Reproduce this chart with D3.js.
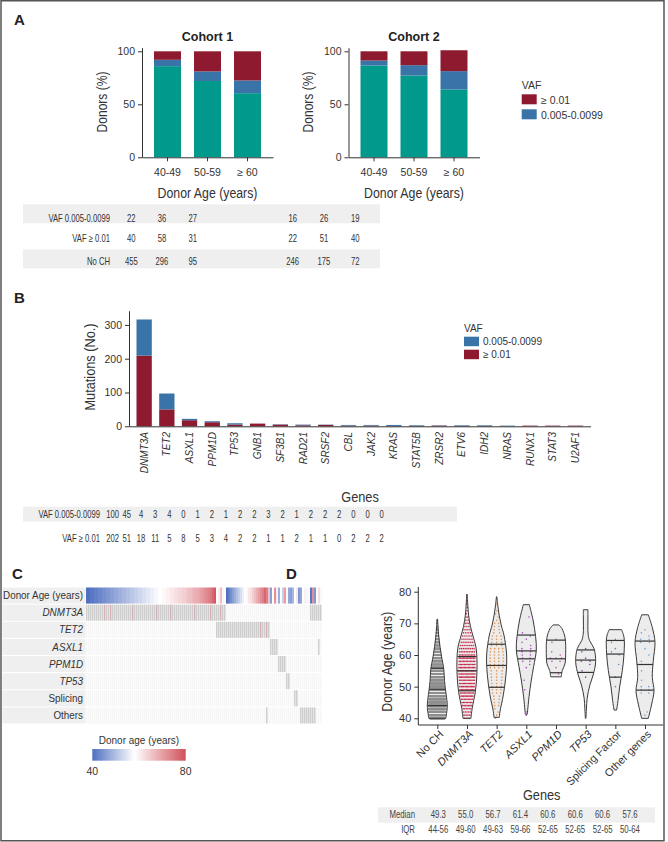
<!DOCTYPE html>
<html><head><meta charset="utf-8">
<script src="https://cdn.jsdelivr.net/npm/d3@7/dist/d3.min.js"></script>
<style>body{margin:0;background:#fff}svg{display:block}</style>
</head><body>
<svg id="fig" width="668" height="842" xmlns="http://www.w3.org/2000/svg"></svg>
<script>
// ================= DATA =================
// Panel A
const ageGroups = ["40-49", "50-59", "≥ 60"];
const c1PctNoCH = [86, 72, 60.5];
const c1PctLow  = [6, 9, 12];
const c1PctHigh = [8, 19, 27.5];
const c2PctNoCH = [86.6, 77.2, 64.1];
const c2PctLow  = [4.7, 9.7, 17.2];
const c2PctHigh = [8.7, 13.1, 19.7];
const yTicksA = [0, 50, 100];
const tableARows = ["VAF 0.005-0.0099", "VAF ≥ 0.01", "No CH"];
const c1Low = [22, 36, 27], c1High = [40, 58, 31], c1NoCH = [455, 296, 95];
const c2Low = [16, 26, 19], c2High = [22, 51, 40], c2NoCH = [246, 175, 72];

// Panel B
const genesB = ["DNMT3A","TET2","ASXL1","PPM1D","TP53","GNB1","SF3B1","RAD21","SRSF2","CBL","JAK2","KRAS","STAT5B","ZRSR2","ETV6","IDH2","NRAS","RUNX1","STAT3","U2AF1"];
const barHigh = [209, 50, 18, 12, 5, 8, 5, 3, 4, 2, 2, 1, 1, 2, 1, 1, 0, 2, 2, 2];
const barLow  = [107, 47, 4, 3, 4, 0, 1, 2, 1, 2, 2, 3, 2, 1, 2, 2, 2, 0, 0, 0];
const yTicksB = [0, 100, 200, 300];
const tabLowB  = [100, 45, 4, 3, 4, 0, 1, 2, 1, 2, 2, 3, 2, 1, 2, 2, 2, 0, 0, 0];
const tabHighB = [202, 51, 18, 11, 5, 8, 5, 3, 4, 2, 2, 1, 1, 2, 1, 1, 0, 2, 2, 2];

// Panel C
const heatRows = ["Donor Age (years)", "DNMT3A", "TET2", "ASXL1", "PPM1D", "TP53", "Splicing", "Others"];
const heatItalic = [false, true, true, true, true, true, false, false];
const colAges = [
  40,40,41,41,42,42,43,43,44,44,45,45,46,46,47,47,48,48,49,49,50,50,51,51,52,52,53,53,54,54,55,55,56,56,57,57,58,58,59,59,60,60,61,61,62,62,63,63,64,64,65,66,66,67,68,68,69,70,71,72,73,74,75,77,79,
  58,60,66,59,58,
  40,42,44,46,48,50,52,54,56,58,59,61,62,64,66,68,70,72,74,77,
  74,66,46,58,72,60,48,58,52,70,59,47,46,49,58,61,45,47,58,60,57,59,41,72,45,58,62,59
];
const mutRanges = [
  [],
  [[0, 69], [112, 117]],
  [[65, 91]],
  [[92, 95], [116, 116]],
  [[96, 99]],
  [[100, 101]],
  [[104, 105]],
  [[90, 90], [107, 114]]
];
const pinkDNMT3A = [9, 12, 23, 35, 42, 54, 62, 67];
const pinkTET2 = [87, 90];
const ageLegendTicks = [40, 80];

// Panel D
const dGroups = ["No CH", "DNMT3A", "TET2", "ASXL1", "PPM1D", "TP53", "Splicing Factor", "Other genes"];
const dItalic = [false, true, true, true, true, true, false, false];
const dColors = ["#8f8f8f", "#c4173d", "#e3883c", "#a13db8", "#b04ca8", "#7c3a9f", "#4f86c6", "#5e9cd4"];
const violinNoCH   = [[40,0.85],[41,0.9],[43.7,1.0],[46,0.95],[49,0.82],[52,0.72],[55.8,0.64],[59,0.45],[62.6,0.27],[66,0.14],[69,0.07],[71.3,0.02]];
const violinDNMT3A = [[40,0.4],[43.1,0.52],[48.4,0.84],[54.7,1.0],[62.1,0.92],[66,0.6],[69,0.35],[72.6,0.16],[76,0.08],[79.1,0.02]];
const violinTET2   = [[40.3,0.27],[42.1,0.33],[47.4,0.67],[53.7,0.93],[60,1.0],[66.3,0.73],[69.5,0.45],[72.6,0.25],[75.5,0.12],[78.4,0.02]];
const violinASXL1  = [[41.3,0.1],[46.8,0.27],[52.1,0.5],[56.3,0.73],[61.6,1.0],[65.8,0.93],[71.1,0.67],[75.9,0.3]];
const violinPPM1D  = [[53.1,0.53],[55.1,0.63],[57.2,0.9],[60.4,0.97],[65.6,0.9],[68.3,0.6],[69.5,0.3]];
const violinTP53   = [[40,0.03],[43,0.08],[46.3,0.15],[50.5,0.42],[53.7,0.75],[57.9,1.0],[62.1,0.83],[64.5,0.4],[66.5,0.25],[72,0.23],[74.3,0.23]];
const violinSplice = [[42.6,0.13],[45.6,0.27],[49.9,0.43],[55.1,0.7],[60.4,0.87],[65.6,0.87],[68,0.62]];
const violinOther  = [[40,0.33],[44.5,0.67],[48.7,0.9],[52.9,0.73],[58.2,0.83],[64,1.0],[68.7,0.73],[72.7,0.33]];
const quartiles = [[44,49.2,55.8],[48.7,55,59.5],[49.8,56.7,63.4],[58.8,61.3,66.3],[54.4,58.8,64.7],[54.5,58.4,61.6],[53,60.3,64.6],[48.9,57,64.4]];
// point counts per year of age, starting at 40
const countsNoCH   = [70,75,78,78,76,72,68,64,60,56,52,50,48,45,42,38,34,30,26,22,18,15,12,10,8,6,5,4,3,2,1,1];
const countsDNMT3A = [3,4,5,6,7,8,9,10,11,12,12,13,13,14,14,14,13,13,12,12,11,10,9,8,7,6,5,4,4,3,3,2,2,1,1,1,1,1,0,1];
const countsTET2   = [1,1,1,1,2,2,2,2,3,3,3,3,3,3,3,3,4,4,4,4,4,4,4,3,3,3,3,2,2,2,2,1,1,1,1,0,1,0,1];
const countsASXL1  = [0,1,1,0,0,0,0,0,0,1,0,0,1,0,0,0,1,1,2,2,2,2,2,1,1,1,1,1,0,0,0,0,1,0,0,0];
const countsPPM1D  = [0,0,0,0,0,0,0,0,0,0,0,0,0,0,1,0,1,0,2,3,1,1,0,0,1,1,0,0,0,0];
const countsTP53   = [0,0,0,0,0,0,0,0,0,0,0,0,0,1,0,1,0,1,2,1,0,1,1];
const countsSplice = [0,0,0,0,0,0,0,0,0,0,1,0,0,1,0,0,0,1,0,0,1,1,1,0,1,1];
const countsOther  = [0,1,1,0,0,0,0,0,2,2,2,0,1,0,0,1,0,2,1,0,1,0,1,0,2,2,1,1,1];
const yTicksD = [40, 50, 60, 70, 80];
const medianLabels = ["49.3", "55.0", "56.7", "61.4", "60.6", "60.6", "60.6", "57.6"];
const iqrLabels = ["44-56", "49-60", "49-63", "59-66", "52-65", "52-65", "52-65", "50-64"];

// ================= DRAWING =================
const SANS = "'Liberation Sans', Arial, Helvetica, sans-serif";
const colTeal = "#00998b", colBlue = "#3a73a7", colRed = "#8e1a30";
const INK = "#333";
const svg = d3.select("#fig");

function txt(x, y, s, o = {}) {
  let tf = `translate(${x},${y})`;
  if (o.rot !== undefined) tf += ` rotate(${o.rot})`;
  if (o.sx) tf += ` scale(${o.sx},1)`;
  const t = svg.append("text").attr("x", 0).attr("y", 0).attr("transform", tf).text(s)
    .attr("font-family", SANS).attr("font-size", o.size || 10)
    .attr("fill", o.fill || INK).attr("text-anchor", o.anchor || "start")
    .attr("dominant-baseline", o.base || "central");
  if (o.weight) t.attr("font-weight", o.weight);
  if (o.italic) t.attr("font-style", "italic");
  return t;
}
function styleAxis(g, size) {
  g.attr("font-family", SANS).attr("font-size", size).attr("color", INK);
  g.selectAll("text").attr("fill", INK);
}

// border
svg.append("rect").attr("x", 1).attr("y", 0.75).attr("width", 663).attr("height", 840)
  .attr("fill", "none").attr("stroke", "#555").attr("stroke-width", 1.5);

// panel letters
txt(14, 19, "A", {size: 15, weight: "bold", fill: "#222"});
txt(14, 297, "B", {size: 15, weight: "bold", fill: "#222"});
txt(12, 573, "C", {size: 15, weight: "bold", fill: "#222"});
txt(286, 573, "D", {size: 15, weight: "bold", fill: "#222"});

// ---------- Panel A ----------
function drawCohort(title, noch, low, high, xr, yLabelX) {
  const rows = ageGroups.map((g, i) => ({group: g, noch: noch[i], low: low[i], high: high[i]}));
  const series = d3.stack().keys(["noch", "low", "high"])(rows);
  const x = d3.scaleBand().domain(ageGroups).range(xr).paddingInner(0.325).paddingOuter(0.3);
  const y = d3.scaleLinear().domain([0, 103.4]).range([157.3, 47.7]);
  const colors = {noch: colTeal, low: colBlue, high: colRed};
  svg.append("g").selectAll("g").data(series).join("g").attr("fill", s => colors[s.key])
    .selectAll("rect").data(s => s).join("rect")
    .attr("x", d => x(d.data.group)).attr("width", x.bandwidth())
    .attr("y", d => y(d[1])).attr("height", d => y(d[0]) - y(d[1]));
  const ay = svg.append("g").attr("transform", `translate(${xr[0]},0)`)
    .call(d3.axisLeft(y).tickValues(yTicksA).tickSize(4).tickSizeOuter(0).tickPadding(3));
  styleAxis(ay, 10.5);
  const ax = svg.append("g").attr("transform", "translate(0,157.3)")
    .call(d3.axisBottom(x).tickSize(4).tickSizeOuter(0).tickPadding(7));
  styleAxis(ax, 10.5);
  const cx = (xr[0] + xr[1]) / 2;
  txt(cx, 37, title, {size: 12.5, weight: "bold", anchor: "middle", fill: "#222"});
  txt(cx, 193, "Donor Age (years)", {size: 14.5, anchor: "middle", sx: 0.85});
  txt(yLabelX, 102, "Donors (%)", {size: 14.5, anchor: "middle", rot: -90, sx: 0.83});
}
drawCohort("Cohort 1", c1PctNoCH, c1PctLow, c1PctHigh, [142, 273], 102);
drawCohort("Cohort 2", c2PctNoCH, c2PctLow, c2PctHigh, [348.5, 479.5], 308);

// legend A
txt(521.7, 85, "VAF", {size: 10.5});
svg.append("rect").attr("x", 521.7).attr("y", 94.3).attr("width", 15).attr("height", 10).attr("fill", colRed);
txt(541, 99.5, "≥ 0.01", {size: 10.5});
svg.append("rect").attr("x", 521.7).attr("y", 109.3).attr("width", 15).attr("height", 10).attr("fill", colBlue);
txt(541, 114.5, "0.005-0.0099", {size: 10.5});

// table A
const TAB = {size: 10.5, sx: 0.73, fill: INK};
svg.append("rect").attr("x", 23).attr("y", 204.3).attr("width", 357).attr("height", 19).attr("fill", "#efefef");
svg.append("rect").attr("x", 23).attr("y", 249.3).attr("width", 357).attr("height", 19).attr("fill", "#efefef");
const tAy = [218.5, 239, 261.5];
const tA1 = d3.scalePoint().domain(ageGroups).range([131.3, 192.7]);
const tA2 = d3.scalePoint().domain(ageGroups).range([292.7, 355.3]);
const tableA1 = [c1Low, c1High, c1NoCH], tableA2 = [c2Low, c2High, c2NoCH];
tableARows.forEach((r, i) => {
  txt(110, tAy[i], r, {...TAB, anchor: "end"});
  ageGroups.forEach((g, j) => {
    txt(tA1(g), tAy[i], tableA1[i][j], {...TAB, anchor: "middle"});
    txt(tA2(g), tAy[i], tableA2[i][j], {...TAB, anchor: "middle"});
  });
});

// ---------- Panel B ----------
{
  const x = d3.scaleBand().domain(genesB).range([129, 590.6]).paddingInner(0.326).paddingOuter(0.33);
  const y = d3.scaleLinear().domain([0, 342]).range([426.3, 310.7]);
  const rows = genesB.map((g, i) => ({gene: g, high: barHigh[i], low: barLow[i]}));
  const series = d3.stack().keys(["high", "low"])(rows);
  const colors = {high: colRed, low: colBlue};
  svg.append("g").selectAll("g").data(series).join("g").attr("fill", s => colors[s.key])
    .selectAll("rect").data(s => s).join("rect")
    .attr("x", d => x(d.data.gene)).attr("width", x.bandwidth())
    .attr("y", d => y(d[1])).attr("height", d => y(d[0]) - y(d[1]));
  const ay = svg.append("g").attr("transform", "translate(129,0)")
    .call(d3.axisLeft(y).tickValues(yTicksB).tickSize(4).tickSizeOuter(0).tickPadding(3));
  styleAxis(ay, 10.5);
  const ax = svg.append("g").attr("transform", "translate(0,426.3)")
    .call(d3.axisBottom(x).tickSize(0).tickSizeOuter(0).tickFormat(""));
  styleAxis(ax, 10);
  genesB.forEach(g => {
    const cx = x(g) + x.bandwidth() / 2;
    txt(cx, 432, g, {size: 10, italic: true, anchor: "end", rot: -90});
  });
  txt(90, 367, "Mutations (No.)", {size: 14.5, anchor: "middle", rot: -90, sx: 0.88});
  txt(360, 497, "Genes", {size: 15, anchor: "middle", sx: 0.85});
  // legend B
  txt(464, 328, "VAF", {size: 10});
  svg.append("rect").attr("x", 464).attr("y", 336.7).attr("width", 15).attr("height", 9.5).attr("fill", colBlue);
  txt(483, 341.5, "0.005-0.0099", {size: 10});
  svg.append("rect").attr("x", 464).attr("y", 349.7).attr("width", 15).attr("height", 9.5).attr("fill", colRed);
  txt(483, 354.5, "≥ 0.01", {size: 10});
  // table B
  svg.append("rect").attr("x", 23).attr("y", 506.7).attr("width", 434).attr("height", 15).attr("fill", "#efefef");
  const tx = d3.scalePoint().domain(genesB).range([112.7, 381.7]);
  const tRows = [["VAF 0.005-0.0099", tabLowB, 514.3], ["VAF ≥ 0.01", tabHighB, 539]];
  tRows.forEach(([lab, vals, yy]) => {
    txt(100, yy, lab, {...TAB, anchor: "end"});
    genesB.forEach((g, i) => txt(tx(g), yy, vals[i], {...TAB, anchor: "middle"}));
  });
}

// ---------- Panel C ----------
{
  const nCols = colAges.length;
  const x = d3.scaleBand().domain(d3.range(nCols)).range([86, 322]);
  const rowY = d3.scaleBand().domain(heatRows).range([587.5, 723.5]).paddingInner(0.06);
  const ageColor = d3.scaleLinear().domain([40, 58, 80]).range(["#4f6fc0", "#ffffff", "#d0505a"]).clamp(true);
  heatRows.forEach((r, i) => {
    svg.append("rect").attr("x", 2.5).attr("y", rowY(r)).attr("width", 83).attr("height", rowY.bandwidth()).attr("fill", "#efefef");
    txt(83, rowY(r) + rowY.bandwidth() / 2, r, {size: 10.5, anchor: "end", italic: heatItalic[i], sx: 0.94});
  });
  svg.append("g").selectAll("rect").data(colAges).join("rect")
    .attr("x", (d, i) => x(i)).attr("width", x.bandwidth() + 0.15)
    .attr("y", rowY(heatRows[0])).attr("height", rowY.bandwidth())
    .attr("fill", d => ageColor(d));
  heatRows.slice(1).forEach((r, k) => {
    const ri = k + 1;
    const mutated = new Set();
    mutRanges[ri].forEach(([a, b]) => d3.range(a, b + 1).forEach(c => mutated.add(c)));
    const pink = new Set(ri === 1 ? pinkDNMT3A : ri === 2 ? pinkTET2 : []);
    svg.append("g").selectAll("rect").data(d3.range(nCols)).join("rect")
      .attr("x", c => x(c)).attr("width", c => mutated.has(c) ? 1.55 : 1.4)
      .attr("y", rowY(r)).attr("height", rowY.bandwidth())
      .attr("fill", c => mutated.has(c) ? (pink.has(c) ? "#d6b1b6" : "#cdcdcd") : "#f6f6f6");
  });
  const defs = svg.append("defs");
  const lg = defs.append("linearGradient").attr("id", "ageGrad");
  [40, 50, 58, 70, 80].forEach(a => lg.append("stop").attr("offset", (a - 40) / 40).attr("stop-color", ageColor(a)));
  const lx = d3.scaleLinear().domain([40, 80]).range([92.3, 185.7]);
  txt(139, 740, "Donor age (years)", {size: 10.5, anchor: "middle", sx: 0.95});
  svg.append("rect").attr("x", lx(40)).attr("y", 749).attr("width", lx(80) - lx(40)).attr("height", 11.7).attr("fill", "url(#ageGrad)");
  ageLegendTicks.forEach(t => txt(lx(t), 771, t, {size: 10.5, anchor: "middle"}));
}

// ---------- Panel D ----------
{
  const x = d3.scalePoint().domain(dGroups).range([437.3, 645]);
  const y = d3.scaleLinear().domain([40, 80]).range([718.3, 591.7]);
  const W = 10;
  const outlines = [violinNoCH, violinDNMT3A, violinTET2, violinASXL1, violinPPM1D, violinTP53, violinSplice, violinOther];
  const counts = [countsNoCH, countsDNMT3A, countsTET2, countsASXL1, countsPPM1D, countsTP53, countsSplice, countsOther];
  const ay = svg.append("g").attr("transform", "translate(418.3,0)")
    .call(d3.axisLeft(y).tickValues(yTicksD).tickSize(4).tickSizeOuter(0).tickPadding(3));
  ay.select(".domain").attr("d", "M0,725V587");
  styleAxis(ay, 11);
  const ax = svg.append("g").attr("transform", "translate(0,725)")
    .call(d3.axisBottom(x).tickSize(4).tickSizeOuter(0).tickFormat(""));
  ax.select(".domain").attr("d", "M418.3,0H663");
  styleAxis(ax, 11);

  dGroups.forEach((g, gi) => {
    const cx = x(g);
    const ol = outlines[gi];
    const hw = d3.scaleLinear().domain(ol.map(d => d[0])).range(ol.map(d => d[1] * W)).clamp(true);
    const area = d3.area().curve(d3.curveCatmullRom.alpha(0.5))
      .y(d => y(d[0])).x0(d => cx - d[1] * W).x1(d => cx + d[1] * W);
    svg.append("path").attr("d", area(ol)).attr("fill", "#ececec").attr("stroke", "none");
    const pts = [];
    counts[gi].forEach((n, i) => {
      const a = 40 + i;
      const h = hw(a) * 0.88;
      for (let j = 0; j < n; j++) {
        const px = n === 1 ? cx + ((i % 3) - 1) * h * 0.5 : cx - h + 2 * h * (j + 0.5) / n;
        pts.push([px, y(a)]);
      }
    });
    svg.append("g").selectAll("circle").data(pts).join("circle")
      .attr("cx", d => d[0]).attr("cy", d => d[1]).attr("r", gi === 0 ? 1.1 : 0.8)
      .attr("fill", dColors[gi]).attr("opacity", 0.9);
    svg.append("path").attr("d", area(ol)).attr("fill", "none").attr("stroke", "#3a3a3a").attr("stroke-width", 1);
    quartiles[gi].forEach(q => {
      svg.append("line").attr("x1", cx - hw(q)).attr("x2", cx + hw(q)).attr("y1", y(q)).attr("y2", y(q))
        .attr("stroke", "#333").attr("stroke-width", 1.2);
    });
    txt(cx + 4, 732, g, {size: 11, anchor: "end", italic: dItalic[gi], rot: -45});
  });
  txt(386.7, 661.7, "Donor Age (years)", {size: 14.5, anchor: "middle", rot: -90, sx: 0.85});
  txt(541.7, 795, "Genes", {size: 15, anchor: "middle", sx: 0.85});
  svg.append("rect").attr("x", 378).attr("y", 807.3).attr("width", 277).attr("height", 15.4).attr("fill", "#efefef");
  const tx = d3.scalePoint().domain(dGroups).range([438.3, 630]);
  const TD = {size: 10, sx: 0.78, fill: "#444"};
  txt(415, 815, "Median", {...TD, anchor: "end"});
  txt(415, 830, "IQR", {...TD, anchor: "end"});
  dGroups.forEach((g, i) => {
    txt(tx(g), 815, medianLabels[i], {...TD, anchor: "middle"});
    txt(tx(g), 830, iqrLabels[i], {...TD, anchor: "middle"});
  });
}
</script>
</body></html>
